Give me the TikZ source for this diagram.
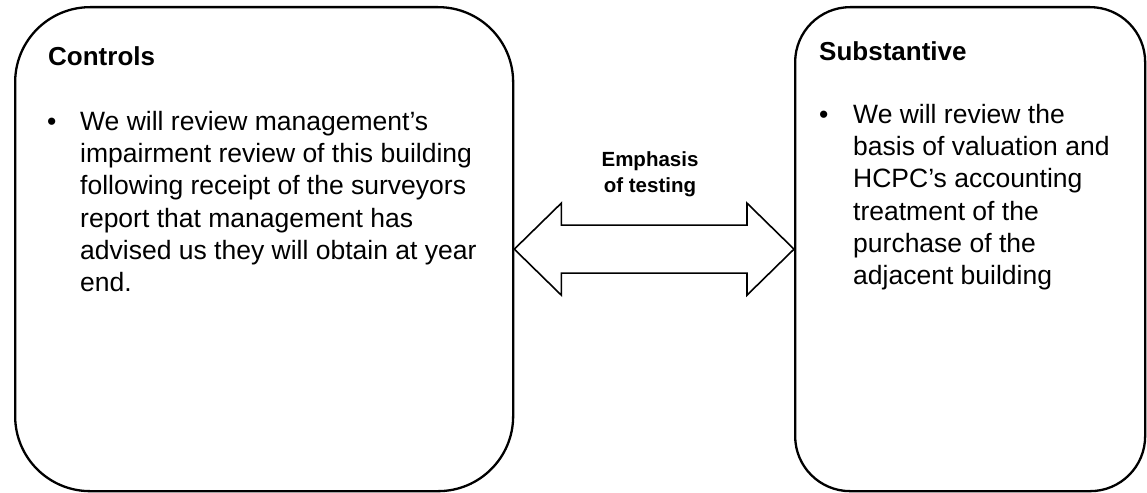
\documentclass[tikz,border=0pt]{standalone}
\usepackage{fontspec}
\setmainfont{Liberation Sans}
\usetikzlibrary{calc}
\begin{document}
\begin{tikzpicture}[x=1pt,y=-1pt,
  panel/.style={draw=black, line width=2.3pt, anchor=north west, inner sep=0pt,
    minimum height=484pt},
  heading/.style={font=\fontsize{26}{31}\selectfont\bfseries, anchor=base west, inner sep=0pt},
  bodytext/.style={font=\fontsize{26.5}{32.2}\selectfont, anchor=north west, inner sep=0pt, align=left},
  bulletmark/.style={font=\fontsize{26.5}{32.2}\selectfont, anchor=base west, inner sep=0pt},
  arrowlabel/.style={font=\fontsize{20.5}{26}\selectfont\bfseries, anchor=north, inner sep=0pt, align=center},
  blockarrow/.style={draw=black, line width=1.6pt, line join=miter, fill=white}]

\useasboundingbox (0,0) rectangle (1147,492);

% the two testing panels
\node[panel, rounded corners=75pt, minimum width=498pt] (L) at (14,6) {};
\node[panel, rounded corners=55pt, minimum width=350pt] (R) at (794,6) {};

% left panel: controls
\node[heading] (lhead) at (48,66) {Controls};
\node[bulletmark] (lbul) at (47,130) {•};
\node[bodytext] (ltext) at (80,111) {We will review management’s\\
impairment review of this building\\
following receipt of the surveyors\\
report that management has\\
advised us they will obtain at year\\
end.};

% right panel: substantive
\node[heading] (rhead) at (819,61) {Substantive};
\node[bulletmark] (rbul) at (819,123) {•};
\node[bodytext] (rtext) at (853,104) {We will review the\\
basis of valuation and\\
HCPC’s accounting\\
treatment of the\\
purchase of the\\
adjacent building};

% double-headed block arrow between the panels
\draw[blockarrow] (L.east) -- ++(47,-46) -- ++(0,22)
  -- ($(R.west)+(-47,-24)$) -- ++(0,-22) -- (R.west) -- ++(-47,46) -- ++(0,-22)
  -- ($(L.east)+(47,24)$) -- ++(0,22) -- cycle;

\node[arrowlabel] (emph) at (650,151.5) {Emphasis\\of testing};
\end{tikzpicture}
\end{document}
